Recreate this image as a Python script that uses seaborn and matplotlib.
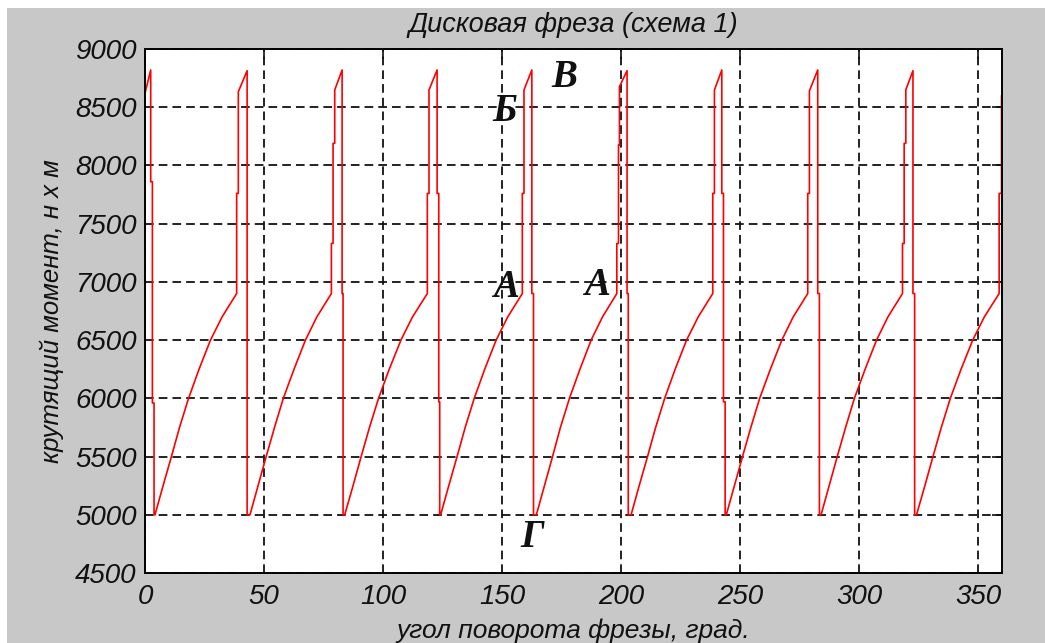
import pandas as pd
import seaborn as sns
import matplotlib.pyplot as plt
from matplotlib.patches import Rectangle

# torque levels along one ramp (same shape for every tooth)
ramp_torque = [5000, 5250, 5500, 5750, 6000, 6250, 6500, 6700, 6900]

# ramp angles
ramp0 = [4.2, 7.6, 11.1, 14.5, 18.3, 22.7, 27.5, 32.4, 38.5]
ramp1 = [44.1, 47.5, 50.9, 54.4, 58.1, 62.6, 67.4, 72.2, 78.3]
ramp2 = [83.9, 87.4, 90.8, 94.3, 98.1, 102.6, 107.5, 112.4, 118.6]
ramp3 = [124.2, 127.6, 131.1, 134.5, 138.3, 142.7, 147.5, 152.4, 158.5]
ramp4 = [164.4, 167.8, 171.2, 174.5, 178.3, 182.7, 187.4, 192.2, 198.2]
ramp5 = [204.2, 207.6, 211.1, 214.5, 218.3, 222.7, 227.5, 232.4, 238.5]
ramp6 = [244.2, 247.6, 251.0, 254.5, 258.2, 262.7, 267.5, 272.3, 278.4]
ramp7 = [284.0, 287.4, 290.8, 294.3, 298.0, 302.5, 307.3, 312.1, 318.2]
ramp8 = [324.1, 327.6, 331.0, 334.5, 338.3, 342.8, 347.7, 352.6, 358.8]

# spikes between ramps
spike0_deg = [0.0, 2.4, 2.4, 3.1, 3.1, 3.8, 3.8]
spike0_val = [8620, 8820, 7860, 7860, 5960, 5960, 5000]
spike1_deg = [38.5, 39.2, 39.2, 42.9, 42.9]
spike1_val = [7760, 7760, 8633, 8814, 5000]
spike2_deg = [78.3, 79.0, 79.0, 79.7, 79.7, 82.8, 82.8, 83.2, 83.2]
spike2_val = [7331, 7331, 8190, 8190, 8648, 8820, 6900, 6900, 5000]
spike3_deg = [118.6, 119.3, 119.3, 122.7, 122.7, 123.4, 123.4, 123.8, 123.8]
spike3_val = [7760, 7760, 8648, 8820, 7760, 7760, 5970, 5970, 5000]
spike4_deg = [158.5, 159.2, 159.2, 162.5, 162.5, 163.2, 163.2]
spike4_val = [7760, 7760, 8648, 8820, 6900, 6900, 5000]
spike5_deg = [198.2, 198.9, 198.9, 199.3, 199.3, 202.5, 202.5, 203.0, 203.0]
spike5_val = [7330, 7330, 8175, 8175, 8676, 8814, 6900, 6900, 5000]
spike6_deg = [238.5, 239.2, 239.2, 242.3, 242.3, 243.0, 243.0, 243.7, 243.7]
spike6_val = [7760, 7760, 8648, 8820, 7760, 7760, 5970, 5970, 5000]
spike7_deg = [278.4, 279.1, 279.1, 282.6, 282.6, 283.3, 283.3]
spike7_val = [7760, 7760, 8640, 8820, 6900, 6900, 5000]
spike8_deg = [318.2, 318.9, 318.9, 319.6, 319.6, 322.6, 322.6, 323.3, 323.3]
spike8_val = [7330, 7330, 8190, 8190, 8650, 8814, 6900, 6900, 5000]
spike9_deg = [358.8, 359.8, 359.8]
spike9_val = [7760, 7760, 8600]

x_ticks = [0, 50, 100, 150, 200, 250, 300, 350]
y_ticks = [4500, 5000, 5500, 6000, 6500, 7000, 7500, 8000, 8500, 9000]

labels = ["В", "Б", "А", "А", "Г"]
label_x = [176.2, 151.1, 151.5, 189.7, 162.8]
label_y = [8759, 8459, 6955, 6972, 4808]

spikes = [(spike0_deg, spike0_val), (spike1_deg, spike1_val), (spike2_deg, spike2_val),
          (spike3_deg, spike3_val), (spike4_deg, spike4_val), (spike5_deg, spike5_val),
          (spike6_deg, spike6_val), (spike7_deg, spike7_val), (spike8_deg, spike8_val),
          (spike9_deg, spike9_val)]
ramps = [ramp0, ramp1, ramp2, ramp3, ramp4, ramp5, ramp6, ramp7, ramp8]

angle, torque = [], []
for i, (sd, sv) in enumerate(spikes):
    angle += sd
    torque += sv
    if i < len(ramps):
        angle += ramps[i]
        torque += ramp_torque
df = pd.DataFrame({"angle": angle, "torque": torque})

sns.set_style("white")
plt.rcParams["font.family"] = ["Liberation Sans", "DejaVu Sans"]

fig = plt.figure(figsize=(10.45, 6.43), dpi=100)
fig.patch.set_facecolor("#c8c8c8")
fig.add_artist(Rectangle((0, 1 - 8 / 643), 1, 8 / 643, transform=fig.transFigure,
                         facecolor="white", edgecolor="none"))
fig.add_artist(Rectangle((0, 0), 7 / 1045, 1, transform=fig.transFigure,
                         facecolor="white", edgecolor="none"))
ax = fig.add_axes([145 / 1045, 1 - 573 / 643, (1002 - 145) / 1045, (573 - 49) / 643])
ax.set_facecolor("white")

sns.lineplot(data=df, x="angle", y="torque", sort=False, estimator=None,
             color="#ff0000", lw=1.2, ax=ax)

ax.set_xlim(0, 360)
ax.set_ylim(4500, 9000)
ax.set_xticks(x_ticks)
ax.set_yticks(y_ticks)
ax.grid(True, color="#111111", linestyle=(0, (4.8, 2.8)), lw=1.3)
ax.tick_params(direction="in", length=7, width=1.2, top=True, right=True,
               labelsize=20, colors="#111111")
ax.tick_params(axis="y", pad=6)
ax.tick_params(axis="x", pad=8)
for lab in ax.get_xticklabels() + ax.get_yticklabels():
    lab.set_fontstyle("italic")
for sp in ax.spines.values():
    sp.set_color("black")
    sp.set_linewidth(1.4)

ax.set_title("Дисковая фреза (схема 1)", fontsize=19.5, fontstyle="italic",
             pad=12, color="#111111")
ax.set_xlabel("угол поворота фрезы, град.", fontsize=19, fontstyle="italic",
              labelpad=6, color="#111111")
ax.set_ylabel("крутящий момент, н х м", fontsize=18.5, fontstyle="italic",
              labelpad=8, color="#111111")

for t, lx, ly in zip(labels, label_x, label_y):
    ax.text(lx, ly, t, ha="center", va="center", fontsize=28, fontweight="bold",
            fontstyle="italic", family=["Liberation Serif", "DejaVu Serif"], color="#111111")

fig.savefig("out.png", dpi=100, facecolor=fig.get_facecolor())
